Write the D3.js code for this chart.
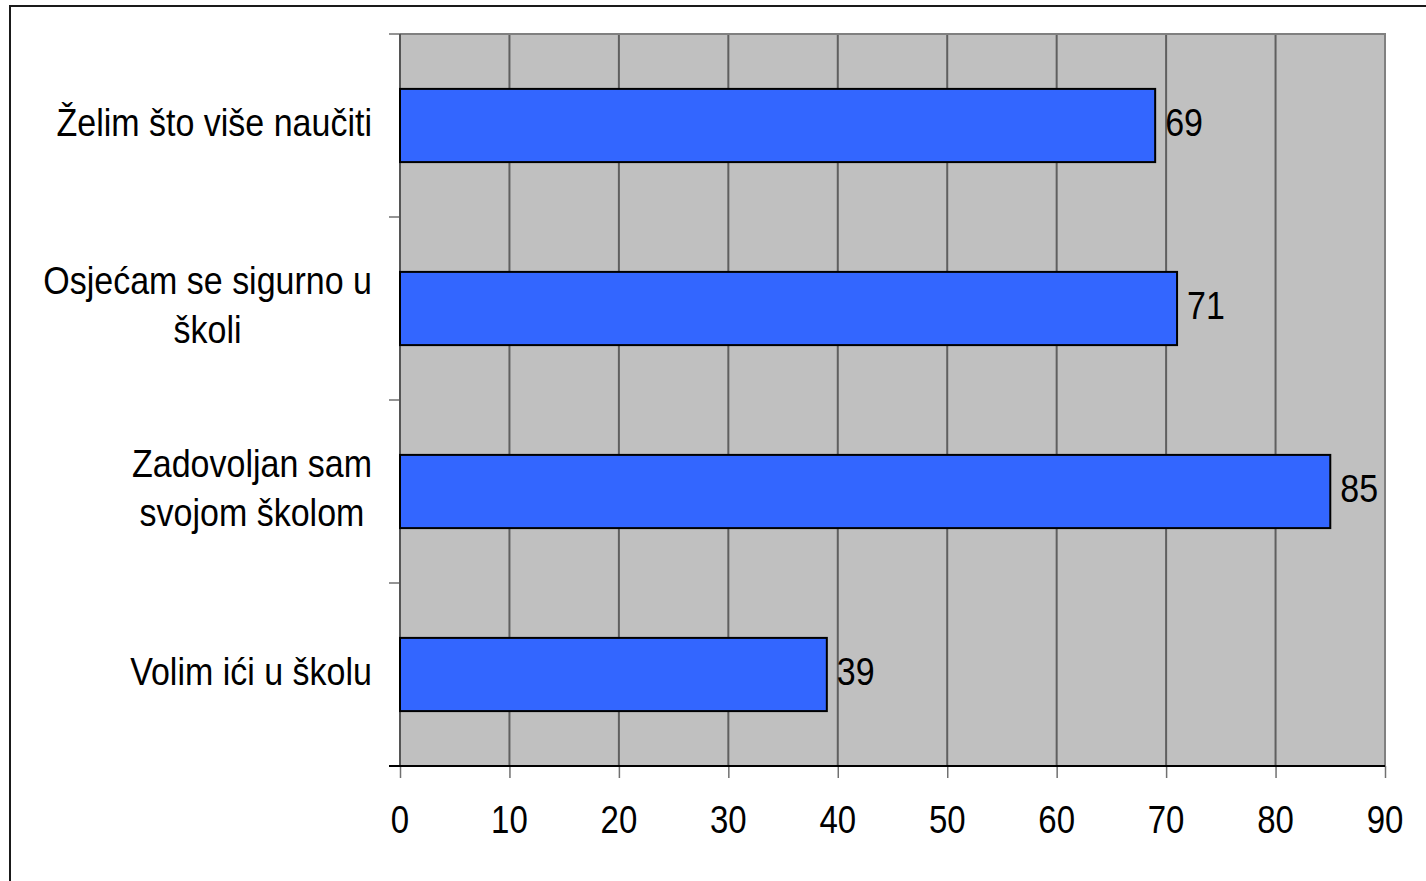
<!DOCTYPE html>
<html>
<head>
<meta charset="utf-8">
<script src="https://cdn.jsdelivr.net/npm/d3@7"></script>
<style>
  html, body { margin: 0; padding: 0; background: #fff; }
  svg { display: block; }
  text { font-family: "Liberation Sans", Arial, sans-serif; fill: #000; }
</style>
</head>
<body>
<svg id="chart" width="1426" height="881"></svg>
<script>
// ---- data ----
const categories = [
  "Želim što više naučiti",
  "Osjećam se sigurno u školi",
  "Zadovoljan sam svojom školom",
  "Volim ići u školu"
];
const categoryLines = [
  ["Želim što više naučiti"],
  ["Osjećam se sigurno u", "školi"],
  ["Zadovoljan sam", "svojom školom"],
  ["Volim ići u školu"]
];
const values = [69, 71, 85, 39];
const xTicks = [0, 10, 20, 30, 40, 50, 60, 70, 80, 90];

// ---- layout ----
const svg = d3.select("#chart");
const plot = { left: 400, right: 1385, top: 34, bottom: 766 };
const fontSize = 34;
const stretch = 1.15; // glyphs in the reference are vertically stretched

// outer frame
svg.append("rect")
  .attr("x", 10).attr("y", 6)
  .attr("width", 1430).attr("height", 900)
  .attr("fill", "none").attr("stroke", "#1a1a1a").attr("stroke-width", 2);

const x = d3.scaleLinear().domain([0, 90]).range([plot.left, plot.right]);
const y = d3.scaleBand().domain(categories).range([plot.top, plot.bottom])
  .paddingInner(0.6).paddingOuter(0.3);

// plot background
svg.append("rect")
  .attr("x", plot.left).attr("y", plot.top)
  .attr("width", plot.right - plot.left).attr("height", plot.bottom - plot.top)
  .attr("fill", "#c0c0c0");

// vertical gridlines
svg.append("g").selectAll("line")
  .data(xTicks.filter(d => d > 0 && d < 90))
  .join("line")
  .attr("x1", d => x(d)).attr("x2", d => x(d))
  .attr("y1", plot.top).attr("y2", plot.bottom)
  .attr("stroke", "#5f5f5f").attr("stroke-width", 2);

// plot border (top, right)
svg.append("path")
  .attr("d", `M${plot.left},${plot.top}H${plot.right}V${plot.bottom}`)
  .attr("fill", "none").attr("stroke", "#808080").attr("stroke-width", 2);

// y axis line and ticks at category boundaries
const boundaries = d3.range(categories.length + 1).map(i => plot.top + i * (plot.bottom - plot.top) / categories.length);
svg.append("g").selectAll("line")
  .data(boundaries.slice(0, -1))
  .join("line")
  .attr("x1", plot.left - 11).attr("x2", plot.left)
  .attr("y1", d => d).attr("y2", d => d)
  .attr("stroke", "#707070").attr("stroke-width", 1.5);
svg.append("line")
  .attr("x1", plot.left).attr("x2", plot.left)
  .attr("y1", plot.top).attr("y2", plot.bottom)
  .attr("stroke", "#555").attr("stroke-width", 2);

// bars
svg.append("g").selectAll("rect")
  .data(values)
  .join("rect")
  .attr("x", x(0))
  .attr("y", (d, i) => y(categories[i]))
  .attr("width", d => x(d) - x(0))
  .attr("height", y.bandwidth())
  .attr("fill", "#3366ff")
  .attr("stroke", "#000").attr("stroke-width", 2);

// value labels
svg.append("g").selectAll("text")
  .data(values)
  .join("text")
  .attr("transform", (d, i) => `translate(${x(d) + 10},${y(categories[i]) + y.bandwidth() / 2 + 10}) scale(1,${stretch})`)
  .attr("font-size", fontSize)
  .text(d => d);

// x axis
const xAxis = d3.axisBottom(x).tickValues(xTicks).tickSize(12).tickFormat("");
const gx = svg.append("g").attr("transform", `translate(0,${plot.bottom})`).call(xAxis);
gx.select(".domain").remove();
gx.selectAll(".tick line").attr("stroke", "#707070").attr("stroke-width", 1.5);
gx.selectAll(".tick text").remove();
svg.append("g").selectAll("text")
  .data(xTicks)
  .join("text")
  .attr("transform", d => `translate(${x(d)},${833}) scale(1,${stretch})`)
  .attr("text-anchor", "middle")
  .attr("font-size", 33)
  .text(d => d);
svg.append("line")
  .attr("x1", plot.left - 11).attr("x2", plot.right)
  .attr("y1", plot.bottom).attr("y2", plot.bottom)
  .attr("stroke", "#000").attr("stroke-width", 2);

// category labels
const labelRight = 372;
const lineH = 49;
categoryLines.forEach((lines, i) => {
  const cy = y(categories[i]) + y.bandwidth() / 2;
  const g = svg.append("g");
  const texts = g.selectAll("text").data(lines).join("text")
    .attr("font-size", fontSize)
    .attr("text-anchor", "middle")
    .text(d => d);
  const maxW = d3.max(texts.nodes(), n => n.getComputedTextLength());
  texts.attr("transform", (d, j) =>
    `translate(${labelRight - maxW / 2},${cy + 10 + (j - (lines.length - 1) / 2) * lineH}) scale(1,${stretch})`);
});
</script>
</body>
</html>
